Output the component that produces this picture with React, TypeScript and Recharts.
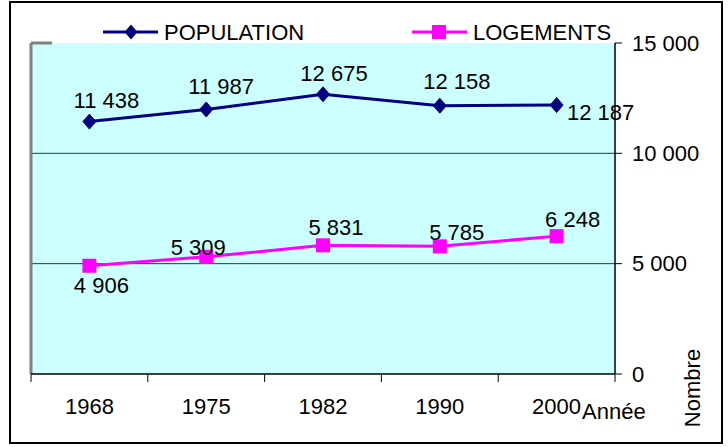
import React from 'react';
import {
  ComposedChart,
  Line,
  XAxis,
  YAxis,
  CartesianGrid,
  ReferenceLine,
  LabelList,
} from 'recharts';

const years = ['1968', '1975', '1982', '1990', '2000'];
const population = [11438, 11987, 12675, 12158, 12187];
const logements = [4906, 5309, 5831, 5785, 6248];
const yTicks = [0, 5000, 10000, 15000];
const boundaryTicks = [0, 1, 2, 3, 4, 5];
const seriesNames = { population: 'POPULATION', logements: 'LOGEMENTS' };
const xAxisTitle = 'Année';
const yAxisTitle = 'Nombre';

const rows = years.map((year, i) => ({
  i,
  year,
  population: population[i],
  logements: logements[i],
}));

// label offsets (style only): [dx, dy] of text centre relative to its point
const popLabelOffsets = [
  [17, -22],
  [15, -23],
  [11, -21],
  [17, -25],
  [44, 7],
];
const logLabelOffsets = [
  [12, 19],
  [-8, -10],
  [13, -18],
  [17, -14],
  [16, -17],
];

const FONT = '"Liberation Sans", Arial, sans-serif';
const FS = 22;
const NAVY = '#000080';
const MAGENTA = '#FF00FF';

const fmt = (v: number) => String(v).replace(/\B(?=(\d{3})+(?!\d))/g, ' ');

const Diamond = (props: any) => {
  const { cx, cy } = props;
  if (cx == null || cy == null) return <g key={props.index} />;
  return (
    <polygon
      key={'d' + props.index}
      points={`${cx},${cy - 7.5} ${cx + 6.5},${cy} ${cx},${cy + 7.5} ${cx - 6.5},${cy}`}
      fill={NAVY}
      stroke={NAVY}
    />
  );
};

const Square = (props: any) => {
  const { cx, cy } = props;
  if (cx == null || cy == null) return <g key={props.index} />;
  return <rect key={'s' + props.index} x={cx - 7} y={cy - 7} width={14} height={14} fill={MAGENTA} />;
};

const makeLabel = (offsets: number[][]) => (props: any) => {
  const x = props.x ?? props.viewBox?.x;
  const y = props.y ?? props.viewBox?.y;
  const idx = props.index ?? 0;
  const [dx, dy] = offsets[idx] || [0, -20];
  if (x == null || y == null) return null;
  return (
    <text
      x={x + dx}
      y={y + dy + 8}
      textAnchor="middle"
      fontSize={FS}
      fontFamily={FONT}
      fill="#000"
    >
      {fmt(Number(props.value))}
    </text>
  );
};

const EmptyTick = () => <g />;

const XTitle = (props: any) => {
  const vb = props.viewBox || {};
  return (
    <text x={vb.x + vb.width - 33} y={vb.y + 37} fontSize={FS} fontFamily={FONT} fill="#000">
      {xAxisTitle}
    </text>
  );
};

const YTitle = (props: any) => {
  const vb = props.viewBox || {};
  const cx = vb.x + 77;
  const cy = vb.y + vb.height + 14;
  return (
    <text
      x={cx}
      y={cy}
      transform={`rotate(-90 ${cx} ${cy})`}
      textAnchor="middle"
      dominantBaseline="central"
      fontSize={FS}
      fontFamily={FONT}
      fill="#000"
    >
      {yAxisTitle}
    </text>
  );
};

const LegendOverlay = () => (
  <svg
    width={728}
    height={43}
    style={{ position: 'absolute', left: 0, top: 0, overflow: 'visible' }}
  >
    <line x1={103} y1={32} x2={158} y2={32} stroke={NAVY} strokeWidth={3} />
    <polygon points="131,24.5 137.5,32 131,39.5 124.5,32" fill={NAVY} />
    <text x={164} y={39.5} fontSize={FS} fontFamily={FONT} fill="#000">
      {seriesNames.population}
    </text>
    <line x1={412} y1={32} x2={467} y2={32} stroke={MAGENTA} strokeWidth={3} />
    <rect x={432} y={25} width={14} height={14} fill={MAGENTA} />
    <text x={473} y={39.5} fontSize={FS} fontFamily={FONT} fill="#000">
      {seriesNames.logements}
    </text>
  </svg>
);

export default function App() {
  return (
    <div style={{ position: 'absolute', left: 0, top: 0, width: 728, height: 447, background: '#fff' }}>
      <ComposedChart
        width={728}
        height={447}
        data={rows}
        margin={{ top: 43, right: 0, bottom: 0, left: 31 }}
        style={{ fontFamily: FONT }}
      >
        <CartesianGrid
          xAxisId="b"
          yAxisId="r"
          vertical={false}
          horizontalValues={[5000, 10000]}
          fill="#CCFFFF"
          fillOpacity={1}
          stroke="#333"
          strokeWidth={1}
        />
        <XAxis
          xAxisId="b"
          type="number"
          dataKey="i"
          domain={[0, 5]}
          allowDataOverflow
          ticks={boundaryTicks}
          interval={0}
          height={8}
          tickSize={8}
          tick={EmptyTick}
          axisLine={{ stroke: '#000', strokeWidth: 1.5 }}
          tickLine={{ stroke: '#000', strokeWidth: 1 }}
        />
        <XAxis
          xAxisId="cat"
          dataKey="year"
          type="category"
          scale="band"
          height={65}
          interval={0}
          axisLine={false}
          tickLine={false}
          tickSize={6}
          tickMargin={10}
          tick={{ fontSize: FS, fill: '#000', fontFamily: FONT }}
          label={{ value: xAxisTitle, content: XTitle }}
        />
        <YAxis
          yAxisId="r"
          orientation="right"
          domain={[0, 15000]}
          ticks={yTicks}
          interval={0}
          width={113}
          tickSize={7}
          tickMargin={10}
          tickFormatter={fmt}
          tick={{ fontSize: FS, fill: '#000', fontFamily: FONT }}
          axisLine={{ stroke: '#000', strokeWidth: 1.5 }}
          tickLine={{ stroke: '#000', strokeWidth: 1 }}
          label={{ value: yAxisTitle, content: YTitle }}
        />
        <ReferenceLine xAxisId="b" yAxisId="r" x={0} stroke="#808080" strokeWidth={3} ifOverflow="visible" />
        <ReferenceLine
          xAxisId="b"
          yAxisId="r"
          segment={[
            { x: 0, y: 15000 },
            { x: 0.18, y: 15000 },
          ]}
          stroke="#808080"
          strokeWidth={3}
          ifOverflow="visible"
        />
        <Line
          xAxisId="cat"
          yAxisId="r"
          dataKey="population"
          name={seriesNames.population}
          stroke={NAVY}
          strokeWidth={3}
          dot={Diamond}
          activeDot={false}
          isAnimationActive={false}
        >
          <LabelList dataKey="population" content={makeLabel(popLabelOffsets)} />
        </Line>
        <Line
          xAxisId="cat"
          yAxisId="r"
          dataKey="logements"
          name={seriesNames.logements}
          stroke={MAGENTA}
          strokeWidth={3}
          dot={Square}
          activeDot={false}
          isAnimationActive={false}
        >
          <LabelList dataKey="logements" content={makeLabel(logLabelOffsets)} />
        </Line>
      </ComposedChart>
      <LegendOverlay />
      <div
        style={{
          position: 'absolute',
          left: 9,
          top: 1,
          width: 714,
          height: 443,
          border: '2px solid #000',
          boxSizing: 'border-box',
          pointerEvents: 'none',
        }}
      />
    </div>
  );
}
